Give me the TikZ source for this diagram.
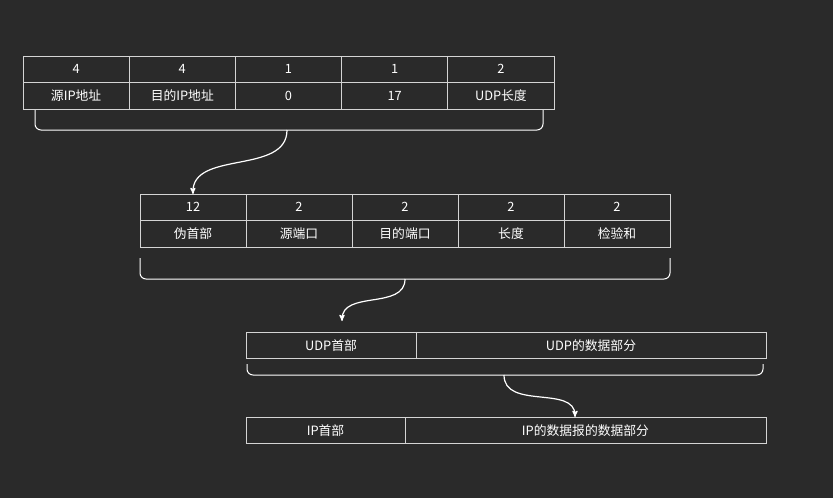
\documentclass[tikz,border=0pt]{standalone}
\usepackage{fontspec}
\setmainfont{Noto Sans CJK SC}
\usepackage{tikz}
\usetikzlibrary{arrows, positioning}
\definecolor{bgdark}{HTML}{2A2A2A}
\definecolor{linegray}{HTML}{D4D4D4}

\begin{document}
\begin{tikzpicture}[x=1pt, y=-1pt, node distance=0pt,
    cell/.style={rectangle, draw=linegray, text=white, line width=1pt, minimum width=106.2pt, minimum height=26.5pt, inner sep=0pt, outer sep=0pt, font=\fontsize{12.8}{14}\selectfont, anchor=north west},
    brace/.style={draw=white, line width=1pt, rounded corners=6pt},
    link/.style={draw=white, line width=1.2pt, -stealth'}]

    \fill [bgdark] (0,0) rectangle (833,498);

    % IP pseudo header
    \node [cell] (lena) at (23,56) {4};
    \node [cell, right=of lena] (lenb) {4};
    \node [cell, right=of lenb] (lenc) {1};
    \node [cell, right=of lenc] (lend) {1};
    \node [cell, right=of lend] (lene) {2};
    \node [cell, below=of lena] (srcip) {源IP地址};
    \node [cell, below=of lenb] (dstip) {目的IP地址};
    \node [cell, below=of lenc] (zero) {0};
    \node [cell, below=of lend] (proto) {17};
    \node [cell, below=of lene] (udplen) {UDP长度};

    % UDP header
    \node [cell, minimum width=106pt] (sza) at (140,194) {12};
    \node [cell, minimum width=106pt, right=of sza] (szb) {2};
    \node [cell, minimum width=106pt, right=of szb] (szc) {2};
    \node [cell, minimum width=106pt, right=of szc] (szd) {2};
    \node [cell, minimum width=106pt, right=of szd] (sze) {2};
    \node [cell, minimum width=106pt, below=of sza] (pseudo) {伪首部};
    \node [cell, minimum width=106pt, below=of szb] (srcport) {源端口};
    \node [cell, minimum width=106pt, below=of szc] (dstport) {目的端口};
    \node [cell, minimum width=106pt, below=of szd] (length) {长度};
    \node [cell, minimum width=106pt, below=of sze] (checksum) {检验和};

    % UDP datagram
    \node [cell, minimum width=170pt] (udphead) at (246,332) {UDP首部};
    \node [cell, minimum width=350pt, right=of udphead] (udpdata) {UDP的数据部分};

    % IP datagram
    \node [cell, minimum width=159pt] (iphead) at (246,417) {IP首部};
    \node [cell, minimum width=361pt, right=of iphead] (ipdata) {IP的数据报的数据部分};

    % braces
    \draw [brace] (35,110) -- (35,130) -- (543,130) -- (543,110);
    \draw [brace] (140,258) -- (140,279) -- (670,279) -- (670,258);
    \draw [brace] (247,364) -- (247,375) -- (763,375) -- (763,364);
    \coordinate (bra) at (287,130);
    \coordinate (brb) at (405,279);
    \coordinate (brc) at (504,375);
    \coordinate (udpin) at (342,321);
    \coordinate (ipin) at (575,417);

    \draw [link] (bra) .. controls (287,175) and (192,150) .. (sza.north);
    \draw [link] (brb) .. controls (405,310) and (342,290) .. (udpin);
    \draw [link] (brc) .. controls (504,410) and (575,385) .. (ipin);
\end{tikzpicture}
\end{document}
